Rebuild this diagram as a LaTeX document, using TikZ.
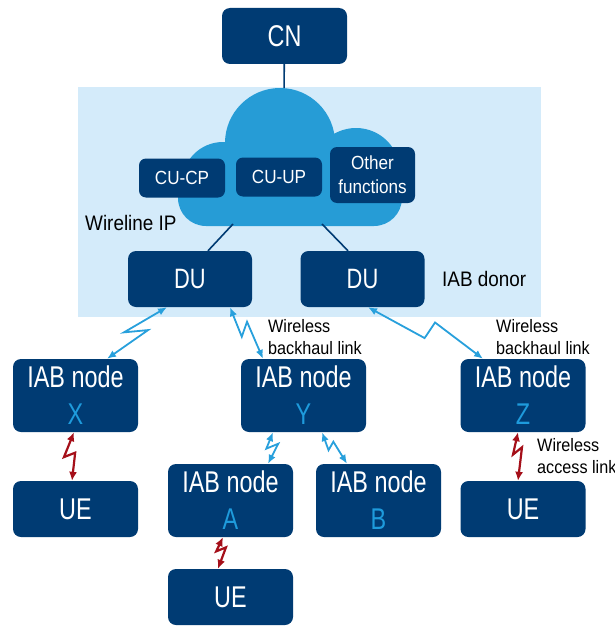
\documentclass[tikz,border=0pt]{standalone}
\usepackage{fontspec}
\setmainfont{Liberation Sans}[FakeStretch=0.78]
\newfontfamily\lblfont{Liberation Sans}[FakeStretch=0.9]
\usetikzlibrary{arrows.meta,calc}
\definecolor{navy}{HTML}{003B73}
\definecolor{letterblue}{HTML}{1E9BDC}
\definecolor{cloudblue}{HTML}{269CD6}
\definecolor{bgblue}{HTML}{D4EBFA}
\definecolor{linkblue}{HTML}{28A0DC}
\definecolor{linkred}{HTML}{A50F19}
\tikzset{
  box/.style={fill=navy, rounded corners=8pt, text=white, minimum width=125pt, minimum height=56pt, align=center, inner sep=0pt, font=\fontsize{30}{37}\selectfont},
  iab/.style={box, minimum height=73pt},
  cu/.style={box, minimum width=86pt, minimum height=39pt, rounded corners=7pt, font=\lblfont\fontsize{19}{24}\selectfont},
  lbl/.style={inner sep=0pt, anchor=west, align=left, font=\lblfont\fontsize{18}{22}\selectfont},
  tag/.style={lbl, font=\lblfont\fontsize{21}{24}\selectfont},
  bolt/.style n args={4}{to path={-- ($(\tikztostart)!#1!(\tikztotarget)!#2!-90:(\tikztotarget)$) -- ($(\tikztostart)!#3!(\tikztotarget)!#4!90:(\tikztotarget)$) -- (\tikztotarget)}},
  bluelink/.style={draw=linkblue, line width=1.8pt, {Latex[length=9pt,width=7.5pt]}-{Latex[length=9pt,width=7.5pt]}},
  redlink/.style={draw=linkred, line width=2.2pt, {Latex[length=9pt,width=8pt]}-{Latex[length=9pt,width=8pt]}},
  wire/.style={draw=navy, line width=1.6pt}
}
\begin{document}
\begin{tikzpicture}[x=1pt, y=-1pt]
\useasboundingbox (0,0) rectangle (614,626);

\fill[bgblue] (78,87) rectangle (541,317);

\node[box] (cn) at (284.5,36) {CN};
\coordinate (cloudtop) at (284,95);
\draw[wire] (cn) -- (cloudtop);

\fill[cloudblue] (223,183) circle (41pt) (280,143) circle (55pt) (356,172) circle (44pt);
\fill[cloudblue, rounded corners=28pt] (178,165) rectangle (402,226);

\node[cu] (cucp) at (182,178) {CU-CP};
\node[cu] (cuup) at (279,177) {CU-UP};
\node[cu, minimum width=85pt, minimum height=56pt] (other) at (372.5,175) {Other\\functions};

\node[box, minimum width=124pt, font=\fontsize{28}{34}\selectfont] (du1) at (190,279) {DU};
\node[box, minimum width=124pt, font=\fontsize{28}{34}\selectfont] (du2) at (362.5,279) {DU};
\coordinate (cloudl) at (233,224);
\coordinate (cloudr) at (322,224);
\draw[wire] (cloudl) -- ([xshift=18pt]du1.north);
\draw[wire] (cloudr) -- ([xshift=-14.5pt]du2.north);

\node[tag] (wip) at (85,223) {Wireline IP};
\node[tag] (donor) at (442,279) {IAB donor};

\node[iab] (nodex) at (75.5,395.5) {IAB node\\\textcolor{letterblue}{X}};
\node[iab] (nodey) at (303.5,395.5) {IAB node\\\textcolor{letterblue}{Y}};
\node[iab] (nodez) at (523,395.5) {IAB node\\\textcolor{letterblue}{Z}};
\node[iab] (nodea) at (230.5,500.5) {IAB node\\\textcolor{letterblue}{A}};
\node[iab] (nodeb) at (378.5,500.5) {IAB node\\\textcolor{letterblue}{B}};
\node[box] (ue1) at (75.5,509) {UE};
\node[box] (ue2) at (230.5,597) {UE};
\node[box] (ue3) at (523,509) {UE};

\node[lbl] (bh1) at (268,337) {Wireless\\backhaul link};
\node[lbl] (bh2) at (496,337) {Wireless\\backhaul link};
\node[lbl] (acc) at (537,456) {Wireless\\access link};

\draw[bluelink] ([xshift=-23pt]du1.south) to[bolt={.62}{9pt}{.37}{5pt}] ([xshift=31.5pt]nodex.north);
\draw[bluelink] ([xshift=40pt]du1.south) to[bolt={.51}{6pt}{.35}{6.5pt}] ([xshift=-40.5pt]nodey.north);
\draw[bluelink] ([xshift=5.5pt]du2.south) to[bolt={.51}{5pt}{.535}{13.5pt}] ([xshift=-40pt]nodez.north);
\draw[bluelink] ([xshift=-30.5pt]nodey.south) to[bolt={.54}{4pt}{.33}{7pt}] ([xshift=37.5pt]nodea.north);
\draw[bluelink] ([xshift=18.5pt]nodey.south) to[bolt={.45}{6pt}{.36}{3pt}] ([xshift=-31.5pt]nodeb.north);
\draw[redlink] ([xshift=-1.5pt]nodex.south) to[bolt={.52}{9pt}{.42}{2pt}] ([xshift=-3.5pt]ue1.north);
\draw[redlink] ([xshift=-7.5pt]nodea.south) to[bolt={.47}{4.5pt}{.30}{4.5pt}] ([xshift=-12.5pt]ue2.north);
\draw[redlink] ([xshift=-5pt]nodez.south) to[bolt={.46}{5pt}{.31}{4pt}] ([xshift=-5pt]ue3.north);
\end{tikzpicture}
\end{document}
